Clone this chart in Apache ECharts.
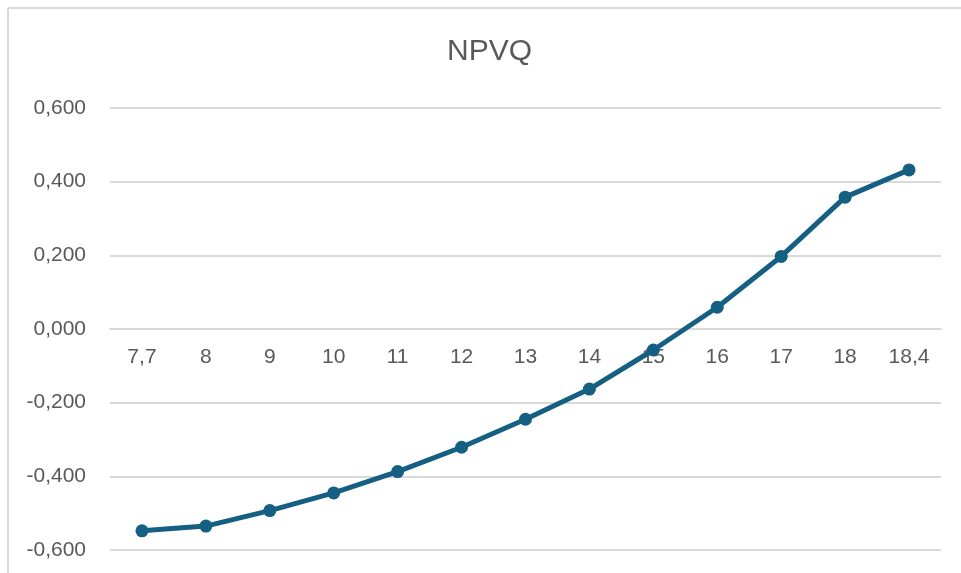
<!DOCTYPE html>
<html>
<head>
<meta charset="utf-8">
<script src="https://cdn.jsdelivr.net/npm/echarts@6/dist/echarts.min.js"></script>
<style>
  html, body { margin: 0; padding: 0; background: #ffffff; }
  #chart { width: 961px; height: 573px; }
</style>
</head>
<body>
<div id="chart"></div>
<script>
// Price points on the category axis (decimal comma labels)
const categories = ['7,7', '8', '9', '10', '11', '12', '13', '14', '15', '16', '17', '18', '18,4'];
// NPVQ value at each price point
const npvq = [-0.548, -0.535, -0.493, -0.445, -0.387, -0.321, -0.245, -0.163, -0.057, 0.059, 0.197, 0.358, 0.432];
// Value axis range and step
const yMin = -0.6;
const yMax = 0.6;
const yStep = 0.2;

const textColor = '#595959';
const gridColor = '#d9d9d9';
const fontFamily = '"Liberation Sans", Arial, sans-serif';

// plot area
const gridTop = 108;
const gridBottom = 23;
const chartHeight = 573;
const plotHeight = chartHeight - gridTop - gridBottom;
// lift the category axis from the bottom edge up to the zero line
const zeroLift = plotHeight * (0 - yMin) / (yMax - yMin);

const chart = echarts.init(document.getElementById('chart'), null, { renderer: 'canvas' });

chart.setOption({
  backgroundColor: '#ffffff',
  animation: false,
  title: {
    text: 'NPVQ',
    left: 442,
    top: 32,
    textStyle: { color: textColor, fontSize: 30, fontWeight: 'normal', fontFamily: fontFamily }
  },
  graphic: [
    // chart-area border (left and top edges)
    { type: 'line', shape: { x1: 8, y1: 8, x2: 8, y2: 573 }, style: { stroke: '#d9d9d9', lineWidth: 2 } },
    { type: 'line', shape: { x1: 8, y1: 8, x2: 961, y2: 8 }, style: { stroke: '#d9d9d9', lineWidth: 2 } }
  ],
  grid: { left: 110, right: 20, top: gridTop, bottom: gridBottom, containLabel: false, outerBoundsMode: 'none' },
  xAxis: {
    type: 'category',
    data: categories,
    boundaryGap: true,
    position: 'bottom',
    offset: -zeroLift,
    axisLine: { show: true, onZero: false, lineStyle: { color: gridColor, width: 2 } },
    axisTick: { show: false },
    axisLabel: { color: textColor, fontSize: 21, fontFamily: fontFamily, margin: 18 },
    splitLine: { show: false }
  },
  yAxis: {
    type: 'value',
    min: yMin,
    max: yMax,
    interval: yStep,
    axisLine: { show: false },
    axisTick: { show: false },
    axisLabel: {
      color: textColor,
      fontSize: 21,
      fontFamily: fontFamily,
      margin: 24,
      formatter: v => v.toFixed(3).replace('.', ',').replace(/^-0,000$/, '0,000')
    },
    splitLine: { show: true, lineStyle: { color: gridColor, width: 2 } }
  },
  series: [{
    name: 'NPVQ',
    type: 'line',
    data: npvq,
    smooth: false,
    symbol: 'circle',
    symbolSize: 13,
    lineStyle: { color: '#156082', width: 5 },
    itemStyle: { color: '#156082' }
  }]
});
</script>
</body>
</html>
